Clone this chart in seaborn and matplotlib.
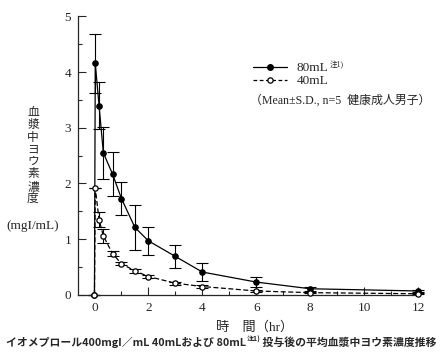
import numpy as np
import pandas as pd
import matplotlib
matplotlib.use('Agg')
import matplotlib.pyplot as plt
from matplotlib.lines import Line2D
import seaborn as sns

# time after dosing (hr)
hours = [0, 0.03, 0.17, 0.33, 0.67, 1, 1.5, 2, 3, 4, 6, 8, 12]
# mean plasma iodine (mgI/mL) and S.D.
mean_80 = [0, 4.16, 3.40, 2.55, 2.17, 1.73, 1.21, 0.97, 0.69, 0.41, 0.23, 0.11, 0.07]
sd_80 = [0, 0.53, 0.42, 0.47, 0.39, 0.29, 0.40, 0.25, 0.20, 0.16, 0.09, 0.04, 0.02]
mean_40 = [0, 1.92, 1.35, 1.06, 0.74, 0.56, 0.43, 0.33, 0.21, 0.15, 0.07, 0.04, 0.02]
sd_40 = [0, 0.0, 0.13, 0.12, 0.04, 0.03, 0.03, 0.03, 0.03, 0.02, 0.02, 0.01, 0.01]

df = pd.DataFrame({'hr': hours * 2,
                   'conc': mean_80 + mean_40,
                   'sd': sd_80 + sd_40,
                   'dose': ['80mL'] * len(hours) + ['40mL'] * len(hours)})

sns.set_style('ticks')
serif = ['Liberation Serif', 'Noto Sans CJK JP']
gothic = ['Noto Sans CJK JP', 'DejaVu Sans']
plt.rcParams['font.family'] = serif

fig = plt.figure(figsize=(4.47, 3.57), dpi=100)
ax = fig.add_axes([0.1745, 0.174, 0.761, 0.78])

d80 = df[df['dose'] == '80mL']
d40 = df[df['dose'] == '40mL']

ax.errorbar(d80['hr'], d80['conc'], yerr=d80['sd'], fmt='none', ecolor='black',
            elinewidth=0.8, capsize=4, capthick=0.8, clip_on=False, zorder=2)
ax.errorbar(d40['hr'], d40['conc'], yerr=d40['sd'], fmt='none', ecolor='black',
            elinewidth=0.8, capsize=4, capthick=0.8, clip_on=False, zorder=2)

sns.lineplot(data=d80, x='hr', y='conc', ax=ax, color='black', lw=0.9,
             marker='o', markersize=4, mfc='black', mec='black',
             clip_on=False, zorder=3)
sns.lineplot(data=d40, x='hr', y='conc', ax=ax, color='black', lw=0.9,
             linestyle=(0, (4, 2)), marker='o', markersize=3.8, mfc='white',
             mec='black', mew=0.9, clip_on=False, zorder=3)

ax.set_xlim(-0.61, 12.0)
ax.set_ylim(0, 5)
ax.set_xticks(range(0, 13, 2))
ax.set_xticks(range(0, 13, 1), minor=True)
ax.set_yticks(range(0, 6))
ax.set_yticks(np.arange(0, 5.01, 0.5), minor=True)
ax.tick_params(which='major', direction='in', length=5.5, width=0.8, labelsize=9.5, pad=5)
ax.tick_params(which='minor', direction='in', length=3, width=0.8)
for s in ['top', 'right']:
    ax.spines[s].set_visible(False)
for s in ['left', 'bottom']:
    ax.spines[s].set_linewidth(0.9)
ax.set_xlabel('')
ax.set_ylabel('')

# legend
handles = [Line2D([], [], color='black', lw=0.9, marker='o', markersize=4, mfc='black'),
           Line2D([], [], color='black', lw=0.9, linestyle=(0, (3, 2)), marker='o',
                  markersize=3.8, mfc='white', mew=0.9)]
ax.legend(handles, ['80mL', '40mL'], frameon=False, prop={'family': serif, 'size': 9.5},
          loc='upper left', bbox_to_anchor=(253 / 447, 1 - 62 / 357),
          bbox_transform=fig.transFigure, handlelength=2.6, handletextpad=0.7,
          labelspacing=0.05, borderpad=0, borderaxespad=0)
fig.text(330 / 447, 1 - 65 / 357, '注1)', fontsize=5.5, family=serif, va='center')
fig.text(250 / 447, 1 - 100 / 357, '（Mean±S.D., n=5  健康成人男子）', fontsize=8.6,
         family=serif, va='center')

# y label, stacked vertically
ylab = '血漿中ヨウ素濃度'
for i, ch in enumerate(ylab):
    fig.text(33 / 447, 1 - (113 + i * 12.3) / 357, ch, fontsize=8.5,
             family=serif, ha='center', va='center')
fig.text(33 / 447, 1 - 226 / 357, '(mgI/mL)', fontsize=9.5, family=serif,
         ha='center', va='center')

# x label
fig.text(255 / 447, 1 - 327 / 357, '時　間（hr）', fontsize=9.5, family=serif,
         ha='center', va='center')

# caption, in three chained pieces so the note can sit raised
cap1 = fig.text(6 / 447, 1 - 346 / 357, 'イオメプロール400mgI／mL 40mLおよび 80mL',
                fontsize=7.8, family=gothic, weight='bold', ha='left', va='baseline')
ax.annotate('注1)', xy=(1, 0.45), xycoords=cap1, xytext=(0.5, 0),
            textcoords='offset points', fontsize=5, family=gothic,
            weight='bold', ha='left', va='bottom', annotation_clip=False)
ax.annotate(' 投与後の平均血漿中ヨウ素濃度推移', xy=(1, 0), xycoords=cap1,
            xytext=(10, 0), textcoords='offset points', fontsize=7.8, family=gothic,
            weight='bold', ha='left', va='bottom', annotation_clip=False)

fig.savefig('out.png', dpi=100)
